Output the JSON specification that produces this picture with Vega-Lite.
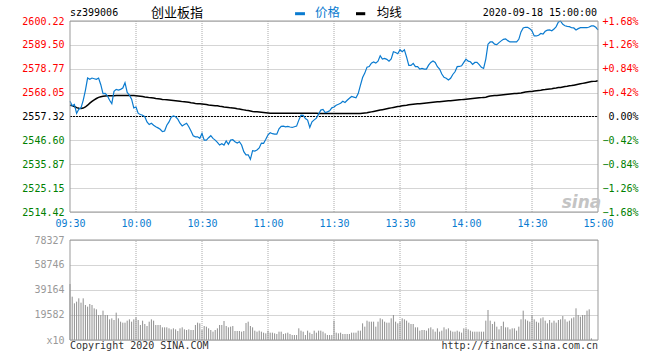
{
  "$schema": "https://vega.github.io/schema/vega-lite/v6.json",
  "width": 528,
  "height": 319,
  "autosize": {"type": "none"},
  "padding": {"left": 70, "top": 21, "right": 62, "bottom": 20},
  "background": "#ffffff",
  "config": {"view": {"stroke": null}, "axis": {"labelFont": "DejaVu Sans Mono", "labelFontSize": 10, "title": null}},
  "datasets": {
    "grid": [{"m": 30}, {"m": 60}, {"m": 90}, {"m": 120}, {"m": 150}, {"m": 180}, {"m": 210}],
    "intraday": [
      {"m":0,"price":2564.2,"avg":2562.4,"vol":43860},{"m":1,"price":2562.1,"avg":2562.2,"vol":33940},{"m":2,"price":2562.7,"avg":2561.8,"vol":28720},{"m":3,"price":2558.7,"avg":2561.3,"vol":30025},{"m":4,"price":2560.6,"avg":2561.0,"vol":32640},{"m":5,"price":2561.2,"avg":2560.9,"vol":29240},{"m":6,"price":2564.6,"avg":2561.1,"vol":32640},{"m":7,"price":2569.1,"avg":2561.6,"vol":27415},{"m":8,"price":2574.6,"avg":2562.4,"vol":26110},{"m":9,"price":2574.0,"avg":2563.3,"vol":28200},
      {"m":10,"price":2574.6,"avg":2564.1,"vol":27415},{"m":11,"price":2574.3,"avg":2564.8,"vol":24800},{"m":12,"price":2574.0,"avg":2565.4,"vol":24020},{"m":13,"price":2574.6,"avg":2565.9,"vol":19580},{"m":14,"price":2571.6,"avg":2566.2,"vol":19580},{"m":15,"price":2567.6,"avg":2566.4,"vol":22975},{"m":16,"price":2567.7,"avg":2566.5,"vol":19580},{"m":17,"price":2566.6,"avg":2566.6,"vol":19580},{"m":18,"price":2564.6,"avg":2566.6,"vol":16190},{"m":19,"price":2563.1,"avg":2566.6,"vol":16970},
      {"m":20,"price":2568.6,"avg":2566.6,"vol":15665},{"m":21,"price":2569.5,"avg":2566.7,"vol":21410},{"m":22,"price":2569.2,"avg":2566.7,"vol":16970},{"m":23,"price":2569.5,"avg":2566.8,"vol":14360},{"m":24,"price":2570.1,"avg":2566.8,"vol":13575},{"m":25,"price":2572.5,"avg":2566.8,"vol":13575},{"m":26,"price":2568.1,"avg":2566.8,"vol":15140},{"m":27,"price":2566.9,"avg":2566.8,"vol":16190},{"m":28,"price":2565.1,"avg":2566.8,"vol":14360},{"m":29,"price":2561.2,"avg":2566.7,"vol":16190},
      {"m":30,"price":2561.6,"avg":2566.6,"vol":17755},{"m":31,"price":2558.7,"avg":2566.5,"vol":15665},{"m":32,"price":2558.2,"avg":2566.4,"vol":11750},{"m":33,"price":2557.9,"avg":2566.3,"vol":15140},{"m":34,"price":2557.2,"avg":2566.1,"vol":12530},{"m":35,"price":2554.9,"avg":2566.0,"vol":10965},{"m":36,"price":2553.7,"avg":2565.8,"vol":14360},{"m":37,"price":2554.3,"avg":2565.7,"vol":16190},{"m":38,"price":2553.4,"avg":2565.6,"vol":15140},{"m":39,"price":2552.7,"avg":2565.4,"vol":11750},
      {"m":40,"price":2552.2,"avg":2565.3,"vol":11750},{"m":41,"price":2551.6,"avg":2565.2,"vol":11750},{"m":42,"price":2550.5,"avg":2565.0,"vol":9920},{"m":43,"price":2550.8,"avg":2564.9,"vol":9920},{"m":44,"price":2553.4,"avg":2564.8,"vol":9920},{"m":45,"price":2554.9,"avg":2564.7,"vol":9140},{"m":46,"price":2557.0,"avg":2564.6,"vol":8355},{"m":47,"price":2557.6,"avg":2564.5,"vol":9140},{"m":48,"price":2557.2,"avg":2564.4,"vol":8355},{"m":49,"price":2556.1,"avg":2564.3,"vol":7050},
      {"m":50,"price":2554.3,"avg":2564.2,"vol":9140},{"m":51,"price":2553.1,"avg":2564.0,"vol":9920},{"m":52,"price":2553.7,"avg":2563.9,"vol":8355},{"m":53,"price":2554.3,"avg":2563.8,"vol":7830},{"m":54,"price":2552.7,"avg":2563.7,"vol":8355},{"m":55,"price":2550.8,"avg":2563.5,"vol":7830},{"m":56,"price":2548.7,"avg":2563.4,"vol":7830},{"m":57,"price":2548.2,"avg":2563.2,"vol":11750},{"m":58,"price":2548.2,"avg":2563.1,"vol":13575},{"m":59,"price":2547.5,"avg":2563.0,"vol":13055},
      {"m":60,"price":2549.7,"avg":2562.9,"vol":7830},{"m":61,"price":2546.7,"avg":2562.8,"vol":10965},{"m":62,"price":2546.7,"avg":2562.7,"vol":10445},{"m":63,"price":2547.8,"avg":2562.5,"vol":9140},{"m":64,"price":2548.7,"avg":2562.4,"vol":7830},{"m":65,"price":2547.5,"avg":2562.3,"vol":6525},{"m":66,"price":2546.7,"avg":2562.2,"vol":7830},{"m":67,"price":2545.7,"avg":2562.1,"vol":9140},{"m":68,"price":2544.5,"avg":2561.9,"vol":11750},{"m":69,"price":2545.1,"avg":2561.8,"vol":11750},
      {"m":70,"price":2544.5,"avg":2561.6,"vol":14880},{"m":71,"price":2546.3,"avg":2561.5,"vol":10965},{"m":72,"price":2544.8,"avg":2561.4,"vol":9920},{"m":73,"price":2546.7,"avg":2561.2,"vol":10445},{"m":74,"price":2546.9,"avg":2561.1,"vol":10965},{"m":75,"price":2546.0,"avg":2561.0,"vol":7050},{"m":76,"price":2545.4,"avg":2560.8,"vol":7050},{"m":77,"price":2546.0,"avg":2560.7,"vol":7050},{"m":78,"price":2544.5,"avg":2560.5,"vol":6525},{"m":79,"price":2541.5,"avg":2560.3,"vol":7050},
      {"m":80,"price":2540.1,"avg":2560.1,"vol":13300},{"m":81,"price":2540.1,"avg":2560.0,"vol":14360},{"m":82,"price":2538.1,"avg":2559.8,"vol":10965},{"m":83,"price":2542.0,"avg":2559.6,"vol":9920},{"m":84,"price":2541.8,"avg":2559.5,"vol":7310},{"m":85,"price":2542.3,"avg":2559.4,"vol":6525},{"m":86,"price":2543.2,"avg":2559.3,"vol":7310},{"m":87,"price":2545.4,"avg":2559.2,"vol":6525},{"m":88,"price":2545.3,"avg":2559.1,"vol":5745},{"m":89,"price":2547.1,"avg":2559.0,"vol":5220},
      {"m":90,"price":2549.1,"avg":2558.9,"vol":7310},{"m":91,"price":2550.0,"avg":2558.8,"vol":5745},{"m":92,"price":2549.6,"avg":2558.8,"vol":5745},{"m":93,"price":2549.4,"avg":2558.8,"vol":5220},{"m":94,"price":2549.4,"avg":2558.8,"vol":4700},{"m":95,"price":2551.8,"avg":2558.8,"vol":6525},{"m":96,"price":2552.9,"avg":2558.8,"vol":6525},{"m":97,"price":2553.0,"avg":2558.8,"vol":4700},{"m":98,"price":2552.7,"avg":2558.8,"vol":5220},{"m":99,"price":2552.9,"avg":2558.8,"vol":5745},
      {"m":100,"price":2552.6,"avg":2558.8,"vol":4700},{"m":101,"price":2552.4,"avg":2558.8,"vol":3915},{"m":102,"price":2552.7,"avg":2558.8,"vol":3915},{"m":103,"price":2553.0,"avg":2558.8,"vol":3915},{"m":104,"price":2555.7,"avg":2558.8,"vol":9140},{"m":105,"price":2557.9,"avg":2558.8,"vol":7310},{"m":106,"price":2557.8,"avg":2558.8,"vol":6525},{"m":107,"price":2556.4,"avg":2558.8,"vol":3915},{"m":108,"price":2555.7,"avg":2558.8,"vol":7310},{"m":109,"price":2552.4,"avg":2558.8,"vol":5745},
      {"m":110,"price":2554.9,"avg":2558.8,"vol":4700},{"m":111,"price":2555.8,"avg":2558.8,"vol":7310},{"m":112,"price":2556.6,"avg":2558.8,"vol":5745},{"m":113,"price":2558.4,"avg":2558.7,"vol":7310},{"m":114,"price":2560.2,"avg":2558.7,"vol":7310},{"m":115,"price":2560.5,"avg":2558.7,"vol":6525},{"m":116,"price":2559.1,"avg":2558.7,"vol":5220},{"m":117,"price":2559.4,"avg":2558.7,"vol":3915},{"m":118,"price":2559.9,"avg":2558.7,"vol":3915},{"m":119,"price":2561.2,"avg":2558.7,"vol":3915},
      {"m":120,"price":2561.6,"avg":2558.7,"vol":15140},{"m":121,"price":2562.4,"avg":2558.7,"vol":5745},{"m":122,"price":2562.8,"avg":2558.7,"vol":5220},{"m":123,"price":2563.3,"avg":2558.7,"vol":5745},{"m":124,"price":2564.2,"avg":2558.7,"vol":4700},{"m":125,"price":2563.6,"avg":2558.7,"vol":4700},{"m":126,"price":2564.6,"avg":2558.7,"vol":4700},{"m":127,"price":2565.5,"avg":2558.7,"vol":4700},{"m":128,"price":2566.3,"avg":2558.7,"vol":5745},{"m":129,"price":2566.0,"avg":2558.7,"vol":5745},
      {"m":130,"price":2565.7,"avg":2558.7,"vol":5745},{"m":131,"price":2567.6,"avg":2558.7,"vol":7310},{"m":132,"price":2571.3,"avg":2558.7,"vol":7310},{"m":133,"price":2574.8,"avg":2558.8,"vol":13055},{"m":134,"price":2576.8,"avg":2558.9,"vol":10445},{"m":135,"price":2579.5,"avg":2559.0,"vol":15140},{"m":136,"price":2579.8,"avg":2559.2,"vol":14360},{"m":137,"price":2581.3,"avg":2559.4,"vol":14360},{"m":138,"price":2581.8,"avg":2559.6,"vol":14360},{"m":139,"price":2581.3,"avg":2559.8,"vol":10445},
      {"m":140,"price":2582.2,"avg":2560.0,"vol":14360},{"m":141,"price":2584.6,"avg":2560.2,"vol":16970},{"m":142,"price":2583.1,"avg":2560.4,"vol":16190},{"m":143,"price":2583.4,"avg":2560.6,"vol":14360},{"m":144,"price":2583.0,"avg":2560.8,"vol":13575},{"m":145,"price":2582.2,"avg":2561.0,"vol":13575},{"m":146,"price":2583.2,"avg":2561.2,"vol":16970},{"m":147,"price":2586.4,"avg":2561.4,"vol":19580},{"m":148,"price":2586.1,"avg":2561.6,"vol":14360},{"m":149,"price":2585.5,"avg":2561.8,"vol":13055},
      {"m":150,"price":2587.3,"avg":2561.9,"vol":14360},{"m":151,"price":2586.4,"avg":2562.1,"vol":16970},{"m":152,"price":2587.3,"avg":2562.3,"vol":16190},{"m":153,"price":2584.0,"avg":2562.4,"vol":15140},{"m":154,"price":2580.3,"avg":2562.6,"vol":13575},{"m":155,"price":2580.3,"avg":2562.7,"vol":12530},{"m":156,"price":2581.2,"avg":2562.8,"vol":12530},{"m":157,"price":2579.7,"avg":2562.9,"vol":9920},{"m":158,"price":2579.7,"avg":2563.0,"vol":9920},{"m":159,"price":2578.6,"avg":2563.1,"vol":7310},
      {"m":160,"price":2578.9,"avg":2563.2,"vol":7830},{"m":161,"price":2578.6,"avg":2563.3,"vol":7830},{"m":162,"price":2578.6,"avg":2563.4,"vol":7310},{"m":163,"price":2580.4,"avg":2563.5,"vol":9140},{"m":164,"price":2581.6,"avg":2563.6,"vol":9920},{"m":165,"price":2582.3,"avg":2563.7,"vol":8355},{"m":166,"price":2581.6,"avg":2563.8,"vol":6525},{"m":167,"price":2579.7,"avg":2563.9,"vol":9140},{"m":168,"price":2578.6,"avg":2564.0,"vol":6525},{"m":169,"price":2576.4,"avg":2564.1,"vol":7310},
      {"m":170,"price":2574.9,"avg":2564.2,"vol":9920},{"m":171,"price":2574.5,"avg":2564.3,"vol":8355},{"m":172,"price":2573.7,"avg":2564.4,"vol":9140},{"m":173,"price":2574.5,"avg":2564.4,"vol":7310},{"m":174,"price":2576.2,"avg":2564.5,"vol":6525},{"m":175,"price":2577.4,"avg":2564.6,"vol":6525},{"m":176,"price":2579.7,"avg":2564.7,"vol":7310},{"m":177,"price":2579.8,"avg":2564.8,"vol":6525},{"m":178,"price":2580.1,"avg":2564.9,"vol":5745},{"m":179,"price":2581.6,"avg":2565.0,"vol":9140},
      {"m":180,"price":2583.1,"avg":2565.1,"vol":9140},{"m":181,"price":2582.2,"avg":2565.2,"vol":8355},{"m":182,"price":2581.9,"avg":2565.3,"vol":7310},{"m":183,"price":2580.7,"avg":2565.4,"vol":6525},{"m":184,"price":2581.6,"avg":2565.5,"vol":6525},{"m":185,"price":2581.6,"avg":2565.6,"vol":6525},{"m":186,"price":2580.6,"avg":2565.7,"vol":6525},{"m":187,"price":2579.4,"avg":2565.8,"vol":6525},{"m":188,"price":2578.9,"avg":2565.9,"vol":6525},{"m":189,"price":2583.1,"avg":2566.0,"vol":15140},
      {"m":190,"price":2589.8,"avg":2566.3,"vol":23500},{"m":191,"price":2590.8,"avg":2566.5,"vol":15140},{"m":192,"price":2590.8,"avg":2566.6,"vol":12530},{"m":193,"price":2589.8,"avg":2566.7,"vol":14360},{"m":194,"price":2589.6,"avg":2566.8,"vol":10445},{"m":195,"price":2590.5,"avg":2566.9,"vol":8355},{"m":196,"price":2591.3,"avg":2567.0,"vol":10965},{"m":197,"price":2592.0,"avg":2567.1,"vol":14360},{"m":198,"price":2592.2,"avg":2567.2,"vol":9920},{"m":199,"price":2591.4,"avg":2567.3,"vol":9920},
      {"m":200,"price":2590.8,"avg":2567.4,"vol":8355},{"m":201,"price":2590.8,"avg":2567.5,"vol":9140},{"m":202,"price":2590.8,"avg":2567.6,"vol":9140},{"m":203,"price":2590.8,"avg":2567.7,"vol":7310},{"m":204,"price":2592.0,"avg":2567.8,"vol":10445},{"m":205,"price":2595.3,"avg":2567.9,"vol":16190},{"m":206,"price":2597.1,"avg":2568.1,"vol":22975},{"m":207,"price":2597.4,"avg":2568.3,"vol":16190},{"m":208,"price":2597.4,"avg":2568.4,"vol":15140},{"m":209,"price":2596.8,"avg":2568.5,"vol":14360},
      {"m":210,"price":2595.8,"avg":2568.6,"vol":19580},{"m":211,"price":2593.5,"avg":2568.8,"vol":16190},{"m":212,"price":2593.5,"avg":2568.9,"vol":14360},{"m":213,"price":2593.8,"avg":2569.0,"vol":13575},{"m":214,"price":2594.6,"avg":2569.1,"vol":16970},{"m":215,"price":2594.3,"avg":2569.3,"vol":17755},{"m":216,"price":2595.6,"avg":2569.4,"vol":15140},{"m":217,"price":2596.1,"avg":2569.6,"vol":13055},{"m":218,"price":2596.2,"avg":2569.7,"vol":15665},{"m":219,"price":2595.8,"avg":2569.8,"vol":13575},
      {"m":220,"price":2596.6,"avg":2570.0,"vol":15140},{"m":221,"price":2597.7,"avg":2570.1,"vol":13575},{"m":222,"price":2599.8,"avg":2570.3,"vol":15665},{"m":223,"price":2600.1,"avg":2570.4,"vol":16190},{"m":224,"price":2598.7,"avg":2570.6,"vol":18800},{"m":225,"price":2598.1,"avg":2570.8,"vol":16190},{"m":226,"price":2597.8,"avg":2570.9,"vol":14360},{"m":227,"price":2597.7,"avg":2571.1,"vol":15140},{"m":228,"price":2597.2,"avg":2571.2,"vol":16970},{"m":229,"price":2597.1,"avg":2571.4,"vol":17755},
      {"m":230,"price":2596.2,"avg":2571.6,"vol":24800},{"m":231,"price":2596.8,"avg":2571.8,"vol":19580},{"m":232,"price":2597.2,"avg":2572.0,"vol":18275},{"m":233,"price":2597.2,"avg":2572.2,"vol":19580},{"m":234,"price":2597.2,"avg":2572.4,"vol":19580},{"m":235,"price":2597.2,"avg":2572.6,"vol":22975},{"m":236,"price":2597.5,"avg":2572.8,"vol":24020},{"m":237,"price":2598.0,"avg":2573.0,"vol":1305},{"m":238,"price":2598.0,"avg":2573.1,"vol":0},{"m":239,"price":2597.4,"avg":2573.2,"vol":0},
      {"m":240,"price":2596.2,"avg":2573.4,"vol":0}
    ]
  },
  "layer": [
    {
      "layer": [
        {
          "data": {"name": "grid"},
          "mark": {"type": "rule", "color": "#aaaaaa", "strokeDash": [1, 1], "strokeWidth": 1},
          "encoding": {
            "x": {"field": "m", "type": "quantitative", "scale": {"domain": [0, 240], "nice": false, "zero": false}, "axis": null},
            "y": {"datum": 2514.42, "type": "quantitative", "scale": {"domain": [2514.42, 2600.22], "range": [191, 0], "nice": false, "zero": false}, "axis": null},
            "y2": {"datum": 2600.22}
          }
        },
        {
          "data": {"values": [{}]},
          "mark": {"type": "rule", "color": "#000000", "strokeDash": [2, 1], "strokeWidth": 1},
          "encoding": {
            "x": {"datum": 0, "type": "quantitative", "axis": null},
            "x2": {"datum": 240},
            "y": {"datum": 2557.32, "type": "quantitative", "axis": null}
          }
        },
        {
          "data": {"name": "intraday"},
          "mark": {"type": "line", "color": "#000000", "strokeWidth": 1.5, "interpolate": "linear"},
          "encoding": {
            "x": {"field": "m", "type": "quantitative", "axis": null},
            "y": {"field": "avg", "type": "quantitative", "axis": {
              "orient": "right", "values": [2514.42, 2525.15, 2535.87, 2546.6, 2557.32, 2568.05, 2578.77, 2589.5, 2600.22],
              "labelExpr": "(datum.value > 2557.33 ? '+' : '') + format((datum.value - 2557.32) / 2557.32 * 100, '.2f') + '%'",
              "grid": false, "domain": false, "ticks": false, "labelAlign": "right", "labelPadding": 40, "labelOverlap": false, "labelFlush": false, "labelBound": false,
              "labelColor": {"condition": [{"test": "datum.value > 2557.33", "value": "#ff0000"}, {"test": "datum.value > 2557.31", "value": "#000000"}], "value": "#008000"}
            }}
          }
        },
        {
          "data": {"name": "intraday"},
          "mark": {"type": "line", "color": "#0a7bd0", "strokeWidth": 1.2, "interpolate": "linear"},
          "encoding": {
            "x": {"field": "m", "type": "quantitative", "axis": {
              "orient": "bottom", "offset": -128, "values": [0, 30, 60, 90, 120, 150, 180, 210, 240],
              "labelExpr": "datum.value == 0 ? '09:30' : datum.value == 30 ? '10:00' : datum.value == 60 ? '10:30' : datum.value == 90 ? '11:00' : datum.value == 120 ? '11:30' : datum.value == 150 ? '13:30' : datum.value == 180 ? '14:00' : datum.value == 210 ? '14:30' : '15:00'",
              "grid": false, "domain": false, "ticks": false, "labelPadding": 6, "labelFlush": false, "labelOverlap": false, "labelBound": false,
              "labelColor": {"condition": {"test": "datum.value < 0", "value": "#0a7bd0"}, "value": "#0a7bd0"}
            }},
            "y": {"field": "price", "type": "quantitative", "axis": {
              "orient": "left", "values": [2514.42, 2525.15, 2535.87, 2546.6, 2557.32, 2568.05, 2578.77, 2589.5, 2600.22],
              "format": ".2f", "grid": true, "gridColor": "#aaaaaa", "gridDash": [1, 1], "gridWidth": 1,
              "domain": false, "ticks": false, "labelPadding": 6, "labelOverlap": false, "labelFlush": false, "labelBound": false,
              "labelColor": {"condition": [{"test": "datum.value > 2557.33", "value": "#ff0000"}, {"test": "datum.value > 2557.31", "value": "#000000"}], "value": "#008000"}
            }}
          }
        },
        {
          "data": {"values": [{}]},
          "mark": {"type": "rect", "fillOpacity": 0, "stroke": "#999999", "strokeWidth": 1},
          "encoding": {
            "x": {"datum": 0, "type": "quantitative", "axis": null},
            "x2": {"datum": 240},
            "y": {"datum": 2514.42, "type": "quantitative", "axis": null},
            "y2": {"datum": 2600.22}
          }
        },
        {
          "data": {"values": [{}]},
          "mark": {"type": "text", "text": "sina", "font": "DejaVu Sans", "fontStyle": "italic", "fontWeight": "bold", "fontSize": 17, "color": "#c4c4c4", "align": "center", "baseline": "middle"},
          "encoding": {
            "x": {"datum": 232.5, "type": "quantitative", "axis": null},
            "y": {"datum": 2518.6, "type": "quantitative", "axis": null}
          }
        },
        {
          "data": {"values": [{}]},
          "mark": {"type": "text", "text": "sz399006", "font": "DejaVu Sans Mono", "fontSize": 10, "color": "#000000", "align": "left", "baseline": "middle"},
          "encoding": {
            "x": {"datum": 0, "type": "quantitative", "axis": null},
            "y": {"datum": 2603.7, "type": "quantitative", "axis": null}
          }
        },
        {
          "data": {"values": [{}]},
          "mark": {"type": "text", "text": "创业板指", "font": "Noto Sans CJK SC", "fontSize": 13, "color": "#000000", "align": "center", "baseline": "middle"},
          "encoding": {
            "x": {"datum": 48.6, "type": "quantitative", "axis": null},
            "y": {"datum": 2603.7, "type": "quantitative", "axis": null}
          }
        },
        {
          "data": {"values": [{}]},
          "mark": {"type": "rule", "color": "#0a7bd0", "strokeWidth": 3},
          "encoding": {
            "x": {"datum": 102.3, "type": "quantitative", "axis": null},
            "x2": {"datum": 106.8},
            "y": {"datum": 2603.5, "type": "quantitative", "axis": null}
          }
        },
        {
          "data": {"values": [{}]},
          "mark": {"type": "text", "text": "价格", "font": "Noto Sans CJK SC", "fontSize": 12.5, "color": "#0a7bd0", "align": "left", "baseline": "middle"},
          "encoding": {
            "x": {"datum": 111.4, "type": "quantitative", "axis": null},
            "y": {"datum": 2603.7, "type": "quantitative", "axis": null}
          }
        },
        {
          "data": {"values": [{}]},
          "mark": {"type": "rule", "color": "#000000", "strokeWidth": 3},
          "encoding": {
            "x": {"datum": 130.0, "type": "quantitative", "axis": null},
            "x2": {"datum": 134.2},
            "y": {"datum": 2603.5, "type": "quantitative", "axis": null}
          }
        },
        {
          "data": {"values": [{}]},
          "mark": {"type": "text", "text": "均线", "font": "Noto Sans CJK SC", "fontSize": 12.5, "color": "#000000", "align": "left", "baseline": "middle"},
          "encoding": {
            "x": {"datum": 139.4, "type": "quantitative", "axis": null},
            "y": {"datum": 2603.7, "type": "quantitative", "axis": null}
          }
        },
        {
          "data": {"values": [{}]},
          "mark": {"type": "text", "text": "2020-09-18 15:00:00", "font": "DejaVu Sans Mono", "fontSize": 10, "color": "#000000", "align": "right", "baseline": "middle"},
          "encoding": {
            "x": {"datum": 239.6, "type": "quantitative", "axis": null},
            "y": {"datum": 2603.7, "type": "quantitative", "axis": null}
          }
        }
      ],
      "resolve": {"axis": {"x": "independent", "y": "independent"}}
    },
    {
      "layer": [
        {
          "data": {"name": "grid"},
          "mark": {"type": "rule", "color": "#aaaaaa", "strokeDash": [1, 1], "strokeWidth": 1},
          "encoding": {
            "x": {"field": "m", "type": "quantitative", "axis": null},
            "y": {"datum": 0, "type": "quantitative", "scale": {"domain": [0, 78327], "range": [319, 219], "nice": false, "zero": false}, "axis": null},
            "y2": {"datum": 78327}
          }
        },
        {
          "data": {"name": "intraday"},
          "mark": {"type": "rule", "color": "#8f8f8f", "strokeWidth": 1},
          "encoding": {
            "x": {"field": "m", "type": "quantitative", "axis": null},
            "y": {"field": "vol", "type": "quantitative", "axis": {
              "orient": "left", "values": [0, 19582, 39164, 58746, 78327], "format": "d",
              "labelExpr": "datum.value == 0 ? 'x10' : datum.label",
              "grid": true, "gridColor": "#aaaaaa", "gridDash": [1, 1], "gridWidth": 1,
              "domain": false, "ticks": false, "labelPadding": 6, "labelOverlap": false, "labelFlush": false, "labelBound": false,
              "labelColor": {"condition": {"test": "datum.value < 0", "value": "#999999"}, "value": "#999999"}
            }},
            "y2": {"datum": 0}
          }
        },
        {
          "data": {"values": [{}]},
          "mark": {"type": "rect", "fillOpacity": 0, "stroke": "#999999", "strokeWidth": 1},
          "encoding": {
            "x": {"datum": 0, "type": "quantitative", "axis": null},
            "x2": {"datum": 240},
            "y": {"datum": 0, "type": "quantitative", "axis": null},
            "y2": {"datum": 78327}
          }
        },
        {
          "data": {"values": [{}]},
          "mark": {"type": "text", "text": "Copyright 2020 SINA.COM", "font": "DejaVu Sans Mono", "fontSize": 10, "color": "#333333", "align": "left", "baseline": "middle"},
          "encoding": {
            "x": {"datum": 0, "type": "quantitative", "axis": null},
            "y": {"datum": -4935, "type": "quantitative", "axis": null}
          }
        },
        {
          "data": {"values": [{}]},
          "mark": {"type": "text", "text": "http://finance.sina.com.cn", "font": "DejaVu Sans Mono", "fontSize": 10, "color": "#333333", "align": "right", "baseline": "middle"},
          "encoding": {
            "x": {"datum": 240, "type": "quantitative", "axis": null},
            "y": {"datum": -4935, "type": "quantitative", "axis": null}
          }
        }
      ],
      "resolve": {"axis": {"y": "independent"}}
    }
  ],
  "resolve": {"scale": {"y": "independent"}, "axis": {"x": "independent", "y": "independent"}}
}
